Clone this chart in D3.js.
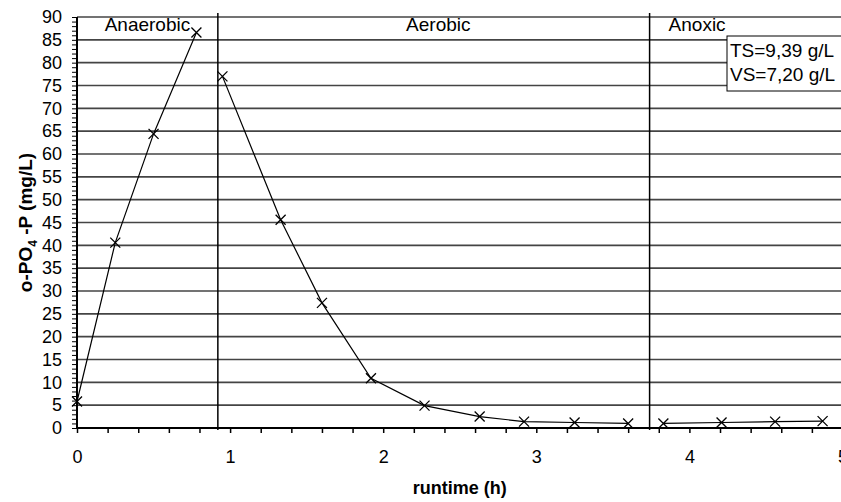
<!DOCTYPE html>
<html lang="en">
<head>
  <meta charset="UTF-8">
  <title>o-PO4-P runtime</title>
  <style>
    html, body { margin: 0; padding: 0; background: #fff; }
    svg { display: block; font-family: "Liberation Sans", Arial, sans-serif; }
  </style>
</head>
<body>
  <div id="main"></div>
  <script src="https://d3js.org/d3.v7.min.js"></script>
  <script>
    // data (runtime in h, o-PO4-P in mg/L)
    const anaerobicTime = [0, 0.25, 0.5, 0.78]
    const anaerobicValue = [5.8, 40.6, 64.4, 86.6]
    const aerobicTime = [0.95, 1.33, 1.6, 1.92, 2.27, 2.63, 2.92, 3.25, 3.6]
    const aerobicValue = [77.0, 45.6, 27.4, 10.9, 4.9, 2.5, 1.4, 1.2, 1.0]
    const anoxicTime = [3.83, 4.21, 4.56, 4.87]
    const anoxicValue = [1.0, 1.2, 1.4, 1.5]
    const phaseBreaks = [0.92, 3.74]
    const phaseLabels = ['Anaerobic', 'Aerobic', 'Anoxic']
    const xTicks = [0, 1, 2, 3, 4, 5]
    const yTicks = d3.range(0, 91, 5)
    const noteLines = ['TS=9,39 g/L', 'VS=7,20 g/L']

    const [width, height] = [841, 502]
    const svg = d3.select('#main').append('svg')
      .attr('width', width)
      .attr('height', height)
      .attr('viewBox', `0 0 ${width} ${height}`)

    const x = d3.scaleLinear().domain([0, 5]).range([77, 842.5])
    const y = d3.scaleLinear().domain([0, 90]).range([428, 17])

    // gridlines
    svg.append('g')
      .selectAll('line')
      .data(yTicks.filter(d => d > 0))
      .join('line')
      .attr('x1', x(0)).attr('x2', x(5))
      .attr('y1', d => y(d)).attr('y2', d => y(d))
      .attr('stroke', '#444')
      .attr('stroke-width', 1.6)

    // phase dividers
    svg.append('g')
      .selectAll('line')
      .data(phaseBreaks)
      .join('line')
      .attr('x1', d => x(d)).attr('x2', d => x(d))
      .attr('y1', 13).attr('y2', 430)
      .attr('stroke', '#000')
      .attr('stroke-width', 1.5)

    // phase labels
    const labelX = [x(0.46), x(2.36), x(3.74) + 19]
    svg.append('g')
      .selectAll('text')
      .data(phaseLabels)
      .join('text')
      .attr('x', (d, i) => labelX[i])
      .attr('y', 31)
      .attr('text-anchor', (d, i) => i === 2 ? 'start' : 'middle')
      .style('font-size', '19px')
      .text(d => d)

    // note box
    svg.append('rect')
      .attr('x', 727).attr('y', 36)
      .attr('width', 130).attr('height', 55)
      .attr('fill', '#fff')
      .attr('stroke', '#000')
      .attr('stroke-width', 1)
    svg.append('g')
      .selectAll('text')
      .data(noteLines)
      .join('text')
      .attr('x', 730)
      .attr('y', (d, i) => 57 + i * 24)
      .style('font-size', '19px')
      .text(d => d)

    // axes
    const xAxis = d3.axisBottom(x)
      .tickValues(d3.range(0, 5.01, 0.2))
      .tickSize(5)
      .tickFormat(d => Math.abs(d - Math.round(d)) < 1e-6 ? d3.format('d')(Math.round(d)) : '')
    svg.append('g')
      .attr('transform', `translate(0,${y(0)})`)
      .call(xAxis)
      .call(g => g.select('.domain').attr('stroke-width', 2).attr('d', `M${x(0)},0H${x(5)}`))
      .call(g => g.selectAll('.tick line').attr('stroke-width', 1.5))
      .call(g => g.selectAll('.tick text')
        .attr('dy', 0).attr('y', 35)
        .style('font-size', '18px')
        .style('font-family', '"Liberation Sans", Arial, sans-serif'))

    const yAxis = d3.axisLeft(y)
      .tickValues(d3.range(0, 91, 1))
      .tickSize(5)
      .tickPadding(10)
      .tickFormat(d => d % 5 === 0 ? d : '')
    svg.append('g')
      .attr('transform', `translate(${x(0)},0)`)
      .call(yAxis)
      .call(g => g.select('.domain').attr('stroke-width', 2).attr('d', `M0,${y(0)}V${y(90)}`))
      .call(g => g.selectAll('.tick line').attr('stroke-width', 1))
      .call(g => g.selectAll('.tick text')
        .style('font-size', '18px')
        .style('font-family', '"Liberation Sans", Arial, sans-serif'))

    // series
    const series = [
      anaerobicTime.map((t, i) => [t, anaerobicValue[i]]),
      aerobicTime.map((t, i) => [t, aerobicValue[i]]),
      anoxicTime.map((t, i) => [t, anoxicValue[i]])
    ]
    const line = d3.line().x(d => x(d[0])).y(d => y(d[1]))
    svg.append('g')
      .selectAll('path')
      .data(series)
      .join('path')
      .attr('d', line)
      .attr('fill', 'none')
      .attr('stroke', '#000')
      .attr('stroke-width', 1.2)

    const s = 5
    svg.append('g')
      .selectAll('path')
      .data(series.flat())
      .join('path')
      .attr('d', d => `M${x(d[0]) - s},${y(d[1]) - s}L${x(d[0]) + s},${y(d[1]) + s}M${x(d[0]) - s},${y(d[1]) + s}L${x(d[0]) + s},${y(d[1]) - s}`)
      .attr('stroke', '#000')
      .attr('stroke-width', 1.3)

    // axis titles
    svg.append('text')
      .attr('x', (x(0) + x(5)) / 2)
      .attr('y', 494)
      .attr('text-anchor', 'middle')
      .style('font-size', '18px')
      .style('font-weight', 'bold')
      .text('runtime (h)')

    const yTitle = svg.append('text')
      .attr('transform', `translate(32,${(y(0) + y(90)) / 2}) rotate(-90)`)
      .attr('text-anchor', 'middle')
      .style('font-size', '19px')
      .style('font-weight', 'bold')
    yTitle.append('tspan').text('o-PO')
    yTitle.append('tspan').attr('dy', 5).style('font-size', '12px').text('4')
    yTitle.append('tspan').attr('dy', -5).text(' -P (mg/L)')
  </script>
</body>
</html>
